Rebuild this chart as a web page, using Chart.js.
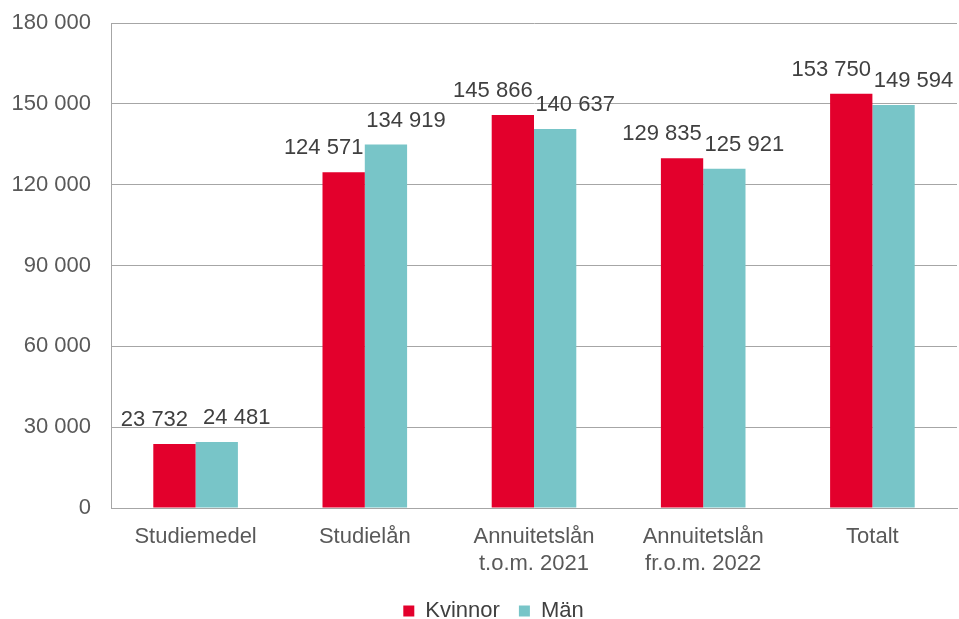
<!DOCTYPE html>
<html>
<head>
<meta charset="utf-8">
<script src="https://cdn.jsdelivr.net/npm/chart.js@4.4.1/dist/chart.umd.min.js"></script>
<style>
html,body{margin:0;padding:0;background:#fff;}
#wrap{width:959px;height:619px;position:relative;}
</style>
</head>
<body>
<div id="wrap"><canvas id="c" width="959" height="619"></canvas></div>
<script>
const categories = [
  'Studiemedel',
  'Studielån',
  ['Annuitetslån', 't.o.m. 2021'],
  ['Annuitetslån', 'fr.o.m. 2022'],
  'Totalt'
];
const kvinnor = [23732, 124571, 145866, 129835, 153750];
const man = [24481, 134919, 140637, 125921, 149594];
const yTicks = [0, 30000, 60000, 90000, 120000, 150000, 180000];

const fmt = v => String(v).replace(/\B(?=(\d{3})+(?!\d))/g, ' ');
const FONT = "'Liberation Sans', Arial, sans-serif";

const labelPlugin = {
  id: 'barLabels',
  afterLayout(chart) {
    if (chart.legend) {
      chart.legend.left += 15;
      chart.legend.right += 15;
      chart.legend.top += 2;
      chart.legend.bottom += 2;
    }
  },
  afterDatasetsDraw(chart) {
    const ctx = chart.ctx;
    ctx.save();
    ctx.font = '22px ' + FONT;
    ctx.fillStyle = '#404040';
    ctx.textAlign = 'center';
    ctx.textBaseline = 'middle';
    chart.data.datasets.forEach((ds, di) => {
      const meta = chart.getDatasetMeta(di);
      const dx = di === 0 ? -20 : 20;
      meta.data.forEach((el, i) => {
        ctx.fillText(fmt(ds.data[i]), el.x + dx, el.y - 24);
      });
    });
    ctx.restore();
  }
};

new Chart(document.getElementById('c'), {
  type: 'bar',
  data: {
    labels: categories,
    datasets: [
      { label: 'Kvinnor', data: kvinnor, backgroundColor: '#E3002C', categoryPercentage: 0.5, barPercentage: 1.0 },
      { label: 'Män', data: man, backgroundColor: '#78C5C8', categoryPercentage: 0.5, barPercentage: 1.0 }
    ]
  },
  options: {
    responsive: false,
    animation: false,
    layout: { padding: { left: 0, right: 2, top: 23, bottom: 0 } },
    plugins: {
      legend: {
        position: 'bottom',
        maxHeight: 40,
        labels: {
          boxWidth: 11, boxHeight: 11, padding: 19,
          color: '#404040',
          font: { family: FONT, size: 22 }
        }
      },
      tooltip: { enabled: false }
    },
    scales: {
      x: {
        grid: { display: false, drawTicks: false },
        border: { display: true, color: '#A6A6A6', width: 1 },
        afterFit(scale) { scale.height = 71; },
        ticks: {
          color: '#595959', padding: 16, maxRotation: 0,
          font: { family: FONT, size: 22, lineHeight: 1.2 }
        }
      },
      y: {
        min: 0, max: 180000,
        afterFit(scale) { scale.width = 111; scale.paddingTop = 0; scale.paddingBottom = 0; },
        afterBuildTicks(scale) { scale.ticks = yTicks.map(v => ({ value: v })); },
        grid: { color: '#A6A6A6', drawTicks: false, lineWidth: 1 },
        border: { display: true, color: '#A6A6A6', width: 1 },
        ticks: {
          color: '#595959', padding: 20,
          font: { family: FONT, size: 22 },
          callback: v => fmt(v)
        }
      }
    }
  },
  plugins: [labelPlugin]
});
</script>
</body>
</html>
